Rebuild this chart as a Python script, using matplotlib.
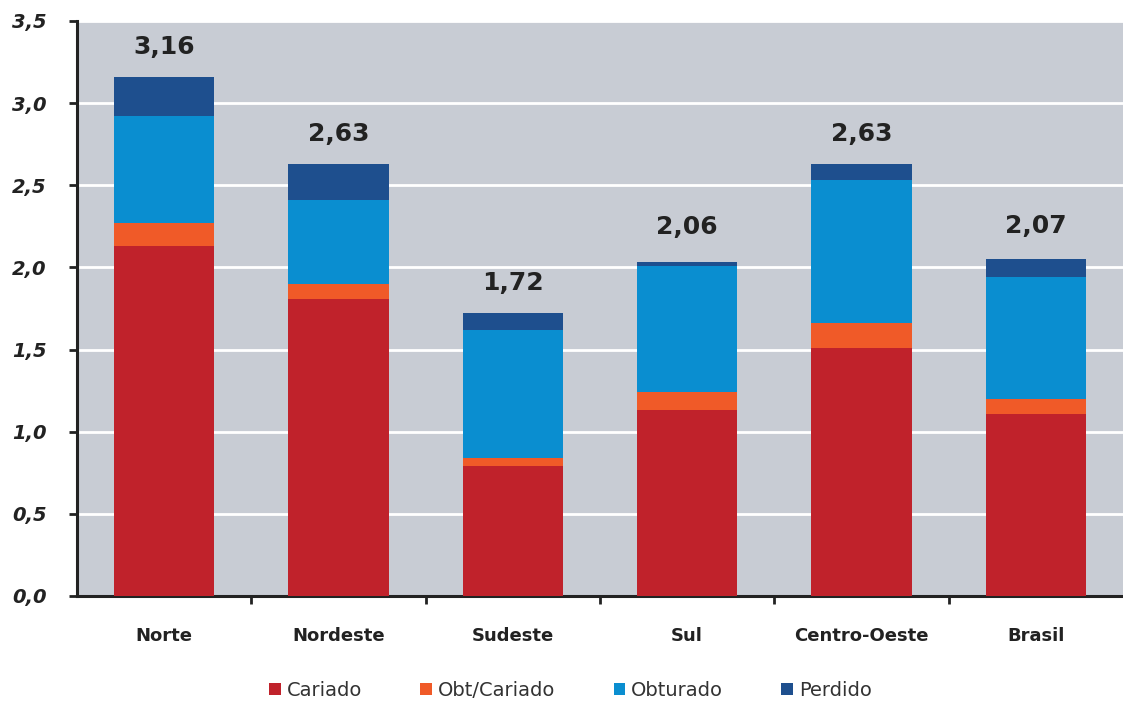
import matplotlib.pyplot as plt
import numpy as np

regioes = ["Norte", "Nordeste", "Sudeste", "Sul", "Centro-Oeste", "Brasil"]
cariado = [2.13, 1.81, 0.79, 1.13, 1.51, 1.11]
obt_cariado = [0.14, 0.09, 0.05, 0.11, 0.15, 0.09]
obturado = [0.65, 0.51, 0.78, 0.77, 0.87, 0.74]
perdido = [0.24, 0.22, 0.10, 0.02, 0.10, 0.11]
totais = [3.16, 2.63, 1.72, 2.06, 2.63, 2.07]

series = [
    ("Cariado", cariado, "#c0222b"),
    ("Obt/Cariado", obt_cariado, "#f05a28"),
    ("Obturado", obturado, "#0a8ed0"),
    ("Perdido", perdido, "#1e4f8e"),
]

fig = plt.figure(figsize=(11.23, 7.17), dpi=100)
ax = fig.add_axes([0.0686, 0.1688, 0.9314, 0.8020])
ax.set_facecolor("#c8ccd4")

x = np.arange(len(regioes))
bottom = np.zeros(len(regioes))
for nome, vals, cor in series:
    ax.bar(x, vals, width=0.575, bottom=bottom, color=cor, label=nome, zorder=3)
    bottom += np.array(vals)

# rótulos dos totais
for xi, t in zip(x, totais):
    ax.annotate(f"{t:.2f}".replace(".", ","), (xi, t), xytext=(0, 13), textcoords="offset points",
                ha="center", va="bottom", fontsize=18, fontweight="bold", color="#222222")

ax.set_xlim(-0.5, len(regioes) - 0.5)
ax.set_ylim(0, 3.5)
yt = np.arange(0, 3.51, 0.5)
ax.set_yticks(yt)
ax.set_yticklabels([f"{v:.1f}".replace(".", ",") for v in yt], fontsize=14,
                   fontweight="bold", fontstyle="italic", color="#222222")
ax.yaxis.grid(True, color="white", lw=2, zorder=1)
ax.set_axisbelow(True)

ax.set_xticks(x)
ax.set_xticklabels(regioes, fontsize=13, fontweight="bold", color="#222222")
ax.set_xticks(np.arange(0.5, len(regioes) - 0.5), minor=True)
ax.tick_params(axis="x", which="major", length=0, pad=22)
ax.tick_params(axis="x", which="minor", length=6, width=2, color="#222222", direction="out")
ax.tick_params(axis="y", length=6, width=2, color="#222222", direction="out", pad=16)

for s in ["top", "right"]:
    ax.spines[s].set_visible(False)
for s in ["left", "bottom"]:
    ax.spines[s].set_linewidth(2.2)
    ax.spines[s].set_color("#222222")

fig.legend(loc="center", bbox_to_anchor=(0.508, 0.037), ncol=4, frameon=False,
           fontsize=14, handlelength=0.6, handleheight=0.6, handletextpad=0.3,
           columnspacing=3.0, labelcolor="#333333")

fig.savefig("out.png", dpi=100)
